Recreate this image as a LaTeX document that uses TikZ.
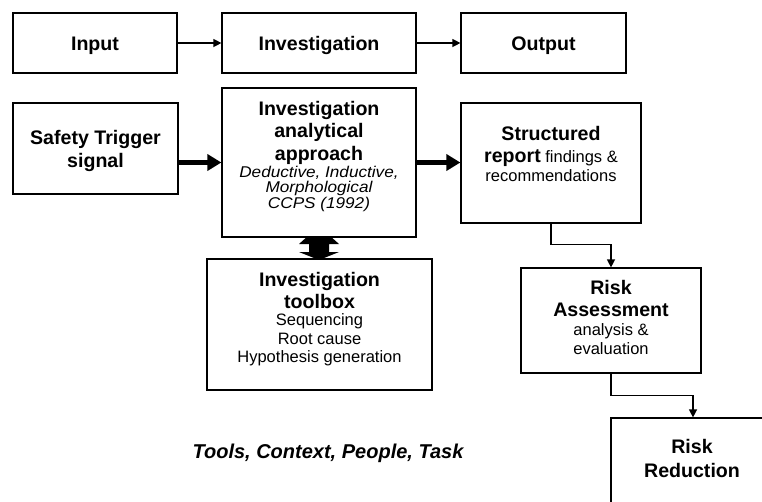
\documentclass[tikz,border=0pt]{standalone}
\usepackage{fontspec}
\usepackage{graphicx}
\setmainfont{Liberation Sans}
\usetikzlibrary{arrows.meta,calc}

% slightly widened italic lines
\newcommand{\wideit}[1]{\scalebox{1.1}[1]{#1}}

\tikzset{
  box/.style={draw, line width=1.2pt, inner sep=0pt, fill=white},
  hd/.style={font=\fontsize{19.6}{22}\selectfont\bfseries, inner sep=0pt, anchor=base},
  tx/.style={font=\fontsize{16.5}{19}\selectfont, inner sep=0pt, anchor=base},
  it/.style={font=\fontsize{15.6}{18}\selectfont\itshape, inner sep=0pt, anchor=base},
  bi/.style={font=\fontsize{20}{22}\selectfont\bfseries\itshape, inner sep=0pt, anchor=base},
  thinarrow/.style={line width=1.3pt, -{Triangle[length=8pt,width=8pt]}},
  fatarrow/.style={line width=5pt, -{Triangle[length=14pt,width=16pt]}},
}

\begin{document}
\begin{tikzpicture}[x=1pt, y=-1pt]
\useasboundingbox (0,0) rectangle (762,501);
\clip (0,0) rectangle (762,501);

% two-way link between the approach and the toolbox (drawn first, boxes cover its top)
\coordinate (dbl) at (319,245);
\fill (319,226) -- (339,244) -- (329,244) -- (329,252) -- (339,252)
      -- (319,260) -- (299,252) -- (309,252) -- (309,244) -- (299,244) -- cycle;

% top row
\node[box, minimum width=164pt, minimum height=60pt] (input)  at (95,43)    {};
\node[box, minimum width=194pt, minimum height=60pt] (invtop) at (319,43)   {};
\node[box, minimum width=165pt, minimum height=60pt] (output) at (543.5,43) {};
\node[hd] (tinput)  at (95,50)    {Input};
\node[hd] (tinvtop) at (319,50)   {Investigation};
\node[hd] (toutput) at (543.5,50) {Output};
\draw[thinarrow] (input) -- (invtop);
\draw[thinarrow] (invtop) -- (output);

% second row
\node[box, minimum width=165pt, minimum height=91pt]  (safety)   at (95.5,148.5) {};
\node[box, minimum width=194pt, minimum height=149pt] (approach) at (319,162.5)  {};
\node[box, minimum width=180pt, minimum height=120pt] (report)   at (551,163)    {};

\node[hd] (s1) at (95.5,144) {Safety Trigger};
\node[hd] (s2) at (95.5,167) {signal};

\node[hd] (a1) at (319,115)   {Investigation};
\node[hd] (a2) at (319,137.5) {analytical};
\node[hd] (a3) at (319,160)   {approach};
\node[it] (a4) at (319,177)   {\wideit{Deductive, Inductive,}};
\node[it] (a5) at (319,192.5) {\wideit{Morphological}};
\node[it] (a6) at (319,208)   {\wideit{CCPS (1992)}};

\node[hd] (r1) at (551,140) {Structured};
\node[tx] (r2) at (551,162) {{\fontsize{19.6}{22}\selectfont\bfseries report} findings \&};
\node[tx] (r3) at (551,181) {recommendations};

\draw[fatarrow] (safety.east |- approach.west) -- (approach.west);
\draw[fatarrow] (approach.east) -- (report.west |- approach.east);

% toolbox
\node[box, minimum width=225pt, minimum height=131pt] (toolbox) at (319.5,324.5) {};
\node[hd] (b1) at (319.5,286.5) {Investigation};
\node[hd] (b2) at (319.5,308)   {toolbox};
\node[tx] (b3) at (319.5,325)   {Sequencing};
\node[tx] (b4) at (319.5,344)   {Root cause};
\node[tx] (b5) at (319.5,362)   {Hypothesis generation};

% risk chain
\node[box, minimum width=180pt, minimum height=105pt] (assess) at (611,320.5) {};
\node[hd] (k1) at (611,294)   {Risk};
\node[hd] (k2) at (611,316.5) {Assessment};
\node[tx] (k3) at (611,335)   {analysis \&};
\node[tx] (k4) at (611,354)   {evaluation};

\node[box, minimum width=164pt, minimum height=110pt] (reduce) at (693,473) {};
\node[hd] (d1) at (692,453.5) {Risk};
\node[hd] (d2) at (692,477)   {Reduction};

\draw[thinarrow] (report.south) -- ++(0,21) -| (assess.north);
\draw[thinarrow] (assess.south) -- ++(0,22) -| (reduce.north);

% factors
\node[bi] (factors) at (328,458) {Tools, Context, People, Task};
\end{tikzpicture}
\end{document}
